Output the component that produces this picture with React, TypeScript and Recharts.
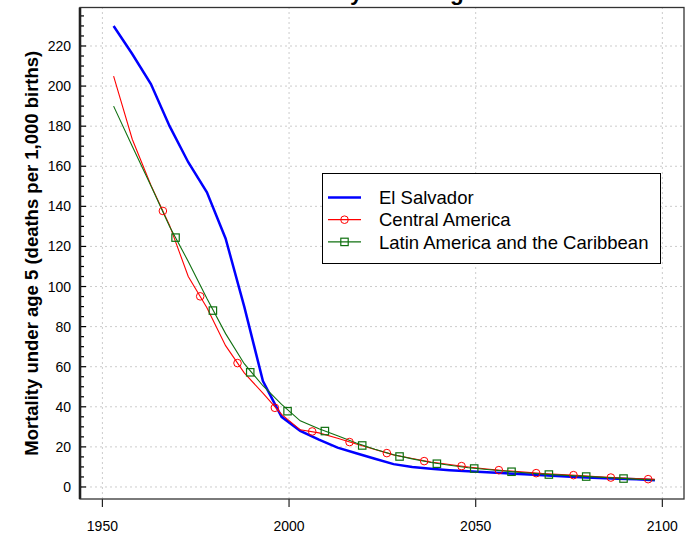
import { ComposedChart, Line, Scatter, XAxis, YAxis, ReferenceLine } from "recharts"

// five-year period points
const years = [
  1953, 1958, 1963, 1968, 1973, 1978, 1983, 1988, 1993, 1998,
  2003, 2008, 2013, 2018, 2023, 2028, 2033, 2038, 2043, 2048,
  2053, 2058, 2063, 2068, 2073, 2078, 2083, 2088, 2093, 2098,
]
const elSalvador = [
  230, 216, 201, 180, 162, 147, 124, 90, 52.8, 35,
  28, 23.6, 19.6, 16.8, 14.1, 11.4, 10.0, 9.1, 8.4, 7.8,
  7.3, 6.8, 6.3, 5.8, 5.3, 4.9, 4.5, 4.1, 3.8, 3.4,
]
const centralAmerica = [
  205, 173.5, 150.5, 130.5, 105, 89.4, 70.5, 56.9, 46.8, 36.2,
  28.5, 27.0, 24.3, 21.4, 18.7, 16.0, 14.2, 12.45, 11.2, 10.0,
  9.0, 8.1, 7.4, 6.7, 6.2, 5.7, 5.1, 4.6, 4.2, 3.8,
]
const latinAmerica = [
  190, 170, 150.3, 130, 112.5, 94, 76.5, 61.5, 50.5, 41.2,
  33, 29.1, 25.5, 21.9, 18.8, 16.1, 14.0, 12.2, 10.8, 9.6,
  8.7, 7.9, 7.1, 6.4, 5.9, 5.4, 4.9, 4.4, 3.9, 3.5,
]

// marker positions
const caMarkerYears = [1966.2, 1976.2, 1986.2, 1996.2, 2006.2, 2016.2, 2026.2, 2036.2, 2046.2, 2056.2, 2066.2, 2076.2, 2086.2, 2096.2]
const caMarkerValues = [137.7, 95.1, 61.8, 39.5, 27.7, 22.4, 16.9, 12.9, 10.4, 8.4, 6.9, 5.9, 4.7, 3.9]
const laMarkerYears = [1969.6, 1979.6, 1989.6, 1999.6, 2009.6, 2019.6, 2029.6, 2039.6, 2049.6, 2059.6, 2069.6, 2079.6, 2089.6]
const laMarkerValues = [124.4, 88.0, 57.2, 37.8, 27.9, 20.7, 15.2, 11.6, 9.2, 7.6, 6.2, 5.2, 4.2]

const xTicks = [1950, 2000, 2050, 2100]
const yGrid = [0, 20, 40, 60, 80, 100, 120, 140, 160, 180, 200, 220]
const yTicks = Array.from({ length: 48 }, (_, i) => i * 5)

const toRows = (xs: number[], ys: number[]) => xs.map((x, i) => ({ x, y: ys[i] }))

const FONT = "'Liberation Sans', Arial, sans-serif"
const W = 697
const H = 535
const PLOT = { left: 80, top: 7.5, right: 684, bottom: 499 }

const YTick = (props: any) => {
  const { x, y, payload } = props
  const v = payload.value
  const major = v % 20 === 0
  return (
    <g>
      <line x1={x} x2={x + (major ? 6 : 4)} y1={y} y2={y} stroke="#000" strokeWidth={1.2} />
      {major && (
        <text x={x - 9} y={y} dy="0.36em" textAnchor="end" fontSize={14} fill="#000" fontFamily={FONT}>
          {v}
        </text>
      )}
    </g>
  )
}

const Circle = (props: any) => (
  <circle cx={props.cx} cy={props.cy} r={3.8} fill="none" stroke="#ff0000" strokeWidth={1} />
)
const Square = (props: any) => (
  <rect x={props.cx - 3.7} y={props.cy - 3.7} width={7.4} height={7.4} fill="none" stroke="#107010" strokeWidth={1.2} />
)

const legendItems = [
  { name: "El Salvador", color: "#0000ff", width: 2.5, marker: "none" },
  { name: "Central America", color: "#ff0000", width: 1.2, marker: "circle" },
  { name: "Latin America and the Caribbean", color: "#107010", width: 1.2, marker: "square" },
]

export default function App() {
  return (
    <div style={{ position: "absolute", left: 0, top: 0, width: W, height: H, background: "#fff", fontFamily: FONT }}>
      <ComposedChart
        width={W}
        height={H}
        margin={{ top: PLOT.top, right: W - PLOT.right, bottom: 0, left: 0 }}
      >
        <XAxis
          dataKey="x"
          type="number"
          domain={[1944.0, 2105.8]}
          ticks={xTicks}
          allowDataOverflow
          axisLine={false}
          tickLine={{ stroke: "#222", strokeWidth: 1.2 }}
          tickSize={8}
          tickMargin={14}
          height={H - PLOT.bottom}
          tick={{ fontSize: 14, fill: "#000", fontFamily: FONT }}
        />
        <YAxis
          type="number"
          domain={[-6.0, 239.2]}
          ticks={yTicks}
          interval={0}
          allowDataOverflow
          width={PLOT.left}
          axisLine={{ stroke: "#000", strokeWidth: 2.5 }}
          tickLine={false}
          tickSize={0}
          tickMargin={0}
          tick={<YTick />}
        />
        {yGrid.map((v) => (
          <ReferenceLine key={"h" + v} y={v} stroke="#cccccc" strokeDasharray="2 3" strokeWidth={1} />
        ))}
        {xTicks.map((v) => (
          <ReferenceLine key={"v" + v} x={v} stroke="#cccccc" strokeDasharray="2 3" strokeWidth={1} />
        ))}
        <Line
          data={toRows(years, elSalvador)}
          dataKey="y"
          stroke="#0000ff"
          strokeWidth={2.5}
          dot={false}
          type="linear"
          isAnimationActive={false}
        />
        <Line
          data={toRows(years, centralAmerica)}
          dataKey="y"
          stroke="#ff0000"
          strokeWidth={1.1}
          dot={false}
          type="linear"
          isAnimationActive={false}
        />
        <Line
          data={toRows(years, latinAmerica)}
          dataKey="y"
          stroke="#107010"
          strokeWidth={1.1}
          dot={false}
          type="linear"
          isAnimationActive={false}
        />
        <Scatter data={toRows(caMarkerYears, caMarkerValues)} dataKey="y" shape={<Circle />} isAnimationActive={false} />
        <Scatter data={toRows(laMarkerYears, laMarkerValues)} dataKey="y" shape={<Square />} isAnimationActive={false} />
      </ComposedChart>

      <svg width={W} height={H} style={{ position: "absolute", left: 0, top: 0, pointerEvents: "none" }}>
        <rect
          x={PLOT.left}
          y={PLOT.top}
          width={PLOT.right - PLOT.left}
          height={PLOT.bottom - PLOT.top}
          fill="none"
          stroke="#333"
          strokeWidth={1.3}
        />
        <text x={(PLOT.left + PLOT.right) / 2} y={0} textAnchor="middle" fontSize={22.5} fontWeight="bold" fontFamily={FONT}>
          Mortality under age 5
        </text>
        <text
          transform={`translate(38, ${(PLOT.top + PLOT.bottom) / 2}) rotate(-90)`}
          textAnchor="middle"
          fontSize={18.5}
          fontWeight="bold"
          fontFamily={FONT}
        >
          Mortality under age 5 (deaths per 1,000 births)
        </text>
      </svg>

      <div
        style={{
          position: "absolute",
          left: 321.5,
          top: 173,
          width: 337,
          height: 89,
          border: "1px solid #000",
          background: "#fff",
        }}
      >
        <svg width={337} height={89} style={{ position: "absolute", left: 0, top: 0 }}>
          {legendItems.map((it, i) => {
            const cy = 23.5 + i * 22.2
            return (
              <g key={it.name}>
                <line x1={5} x2={38} y1={cy} y2={cy} stroke={it.color} strokeWidth={it.width} />
                {it.marker === "circle" && <circle cx={21.5} cy={cy} r={3.8} fill="none" stroke={it.color} />}
                {it.marker === "square" && (
                  <rect x={17.8} y={cy - 3.7} width={7.4} height={7.4} fill="none" stroke={it.color} strokeWidth={1.2} />
                )}
                <text x={56} y={cy} dy="0.36em" fontSize={18.5} fill="#000" fontFamily={FONT}>
                  {it.name}
                </text>
              </g>
            )
          })}
        </svg>
      </div>
    </div>
  )
}
